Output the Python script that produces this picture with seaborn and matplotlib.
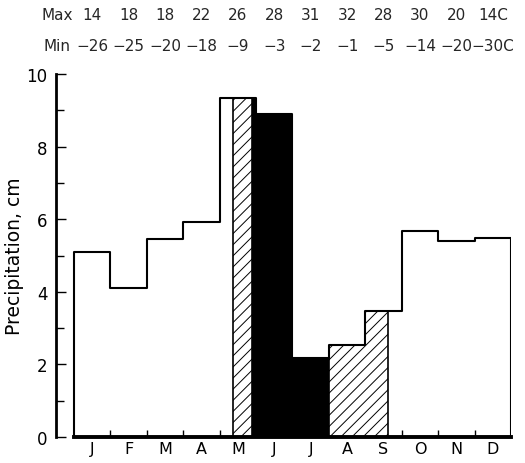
import matplotlib
matplotlib.use("Agg")
import matplotlib.pyplot as plt
import matplotlib.transforms as mtransforms
import seaborn as sns
import pandas as pd

# ---- data ----
months = ["J", "F", "M", "A", "M", "J", "J", "A", "S", "O", "N", "D"]
precip = [5.10, 4.11, 5.45, 5.92, 9.33, 8.90, 2.18, 2.54, 3.47, 5.68, 5.40, 5.48]
temp_max = ["14", "18", "18", "22", "26", "28", "31", "32", "28", "30", "20", "14C"]
temp_min = ["\u221226", "\u221225", "\u221220", "\u221218", "\u22129", "\u22123",
            "\u22122", "\u22121", "\u22125", "\u221214", "\u221220", "\u221230C"]
# shaded periods in month units (0 = start of January)
hatch_periods = [(4.38, 4.88), (7.0, 8.63)]
solid_periods = [(4.88, 7.0)]

sns.set_theme(style="white")
plt.rcParams["font.family"] = ["DejaVu Sans"]
plt.rcParams["xtick.bottom"] = True
plt.rcParams["ytick.left"] = True

fig = plt.figure(figsize=(5.25, 4.64), dpi=100)
ax = fig.add_axes([56 / 525, 1 - 438 / 464, 455 / 525, 363 / 464])


def pieces(start, end):
    """split a period into per-month pieces -> (left, width, height)"""
    out = []
    m = int(start)
    while m < end and m < len(precip):
        a = max(start, m)
        b = min(end, m + 1)
        if b > a:
            out.append((a, b - a, precip[m]))
        m += 1
    return out


plt.rcParams["hatch.linewidth"] = 0.7
for (s, e) in hatch_periods:
    for (l, w, h) in pieces(s, e):
        ax.bar(l, h, width=w, align="edge", facecolor="white", edgecolor="black",
               hatch="///", linewidth=0, zorder=1)
    # boundary lines where shading meets white
    ax.vlines([s], 0, precip[int(s)], color="black", lw=1.2, zorder=3)
    ax.vlines([e], 0, precip[min(int(e - 1e-9), 11)], color="black", lw=1.2, zorder=3)
for (s, e) in solid_periods:
    for (l, w, h) in pieces(s, e):
        ax.bar(l, h, width=w, align="edge", facecolor="black", edgecolor="black",
               linewidth=0, zorder=1)

# stepped outline of the monthly precipitation
step_x = [0] + list(range(len(precip))) + [len(precip), len(precip)]
step_y = [0] + precip + [precip[-1], 0]
df = pd.DataFrame({"x": step_x, "y": step_y})
sns.lineplot(data=df, x="x", y="y", estimator=None, sort=False, color="black",
             lw=1.5, drawstyle="steps-post", ax=ax, zorder=4)

ax.set_xlim(-0.494, 12)
ax.set_ylim(0, 10)

for side in ["top", "right"]:
    ax.spines[side].set_visible(False)
ax.spines["left"].set_linewidth(2.0)
ax.spines["left"].set_bounds(0, 10)
ax.spines["bottom"].set_linewidth(2.8)
ax.spines["bottom"].set_bounds(0, 12)
ax.spines["bottom"].set_zorder(5)
ax.spines["left"].set_color("black")
ax.spines["bottom"].set_color("black")

ax.set_xticks([i + 0.5 for i in range(12)])
ax.set_xticklabels(months, fontsize=11.5, color="black")
ax.set_xticks(list(range(1, 12)), minor=True)
ax.tick_params(axis="x", which="major", length=0, pad=3)
ax.tick_params(axis="x", which="minor", direction="in", length=5, width=1,
               color="black", bottom=True)

ax.set_yticks([0, 2, 4, 6, 8, 10])
ax.set_yticklabels(["0", "2", "4", "6", "8", "10"], fontsize=12, color="black")
ax.set_yticks([1, 3, 5, 7, 9], minor=True)
ax.tick_params(axis="y", which="major", direction="in", length=7, width=1,
               color="black", left=True, pad=6)
ax.tick_params(axis="y", which="minor", direction="in", length=6, width=1,
               color="black", left=True)

ax.set_xlabel("")
ax.set_ylabel("Precipitation, cm", fontsize=13.5, color="black", labelpad=2)

# temperature header rows
trans = mtransforms.blended_transform_factory(ax.transData, fig.transFigure)
fig.text(57 / 525, 1 - 15 / 464, "Max", ha="center", va="center", fontsize=11)
fig.text(57 / 525, 1 - 47 / 464, "Min", ha="center", va="center", fontsize=11)
for i, (tx, tn) in enumerate(zip(temp_max, temp_min)):
    ax.text(i + 0.5, 1 - 15 / 464, tx, transform=trans, ha="center", va="center",
            fontsize=11, clip_on=False)
    ax.text(i + 0.5, 1 - 47 / 464, tn, transform=trans, ha="center", va="center",
            fontsize=11, clip_on=False)

fig.savefig("out.png", dpi=100, facecolor="white")
